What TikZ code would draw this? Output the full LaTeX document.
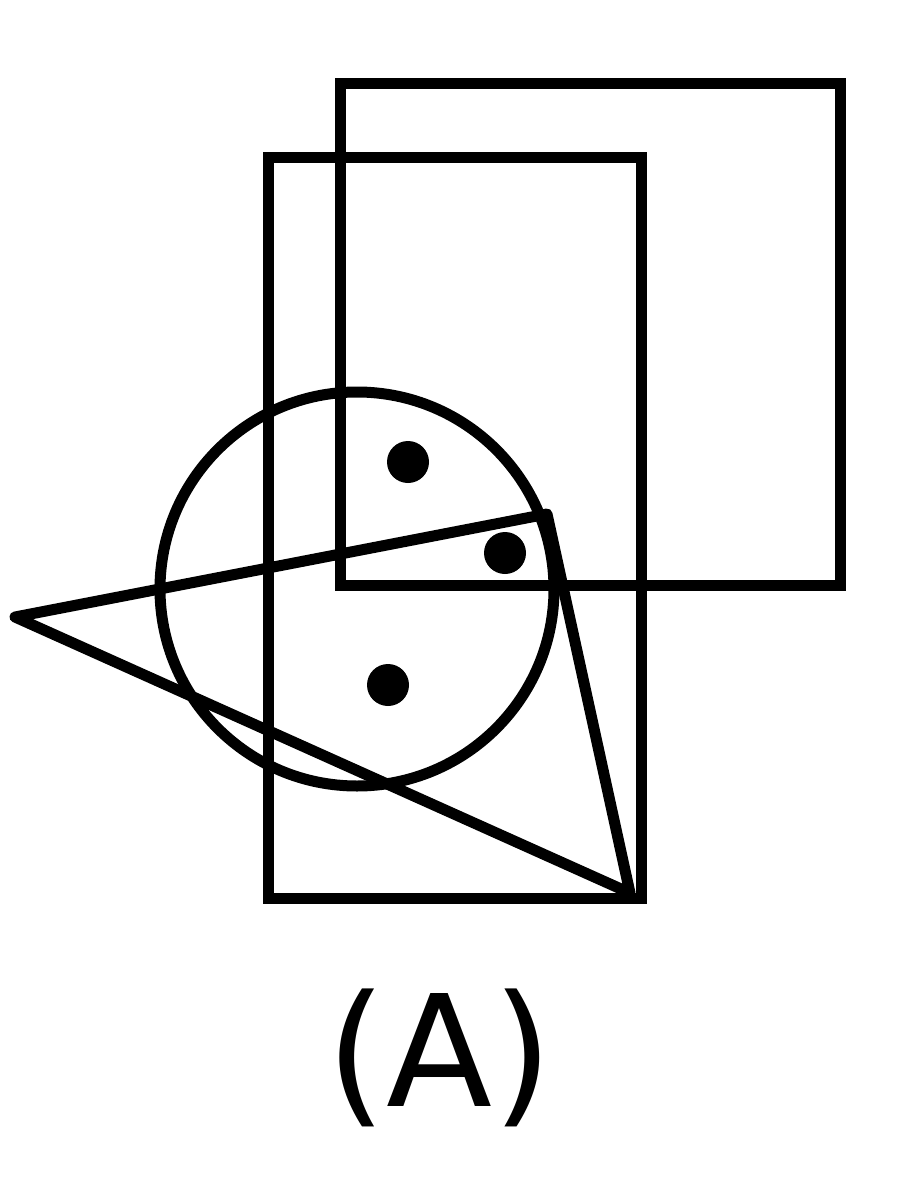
\documentclass[tikz,border=0pt]{standalone}
\usepackage{fontspec}
\setmainfont{DejaVu Sans}
\begin{document}
\begin{tikzpicture}[x=1pt,y=-1pt,
  shape line/.style={draw=black,line width=11pt,line join=miter},
  tri line/.style={draw=black,line width=11pt,line join=round},
  dot/.style={circle,fill=black,inner sep=0pt,minimum size=42pt}]
\useasboundingbox (0,0) rectangle (900,1182);
\draw[shape line] (340,84) rectangle (840,585);
\draw[shape line] (268,158) rectangle (641,898);
\draw[shape line] (357,589) circle[radius=197];
\coordinate (t1) at (15,617);
\coordinate (t2) at (547,514);
\coordinate (t3) at (630,893);
\draw[tri line] (t1) -- (t2) -- (t3) -- cycle;
\node[dot] (d1) at (408,462) {};
\node[dot] (d2) at (505,553) {};
\node[dot] (d3) at (388,685) {};
\node[font=\fontsize{155}{175}\selectfont,inner sep=0pt] (lab) at (440,1058) {(A)};
\end{tikzpicture}
\end{document}
